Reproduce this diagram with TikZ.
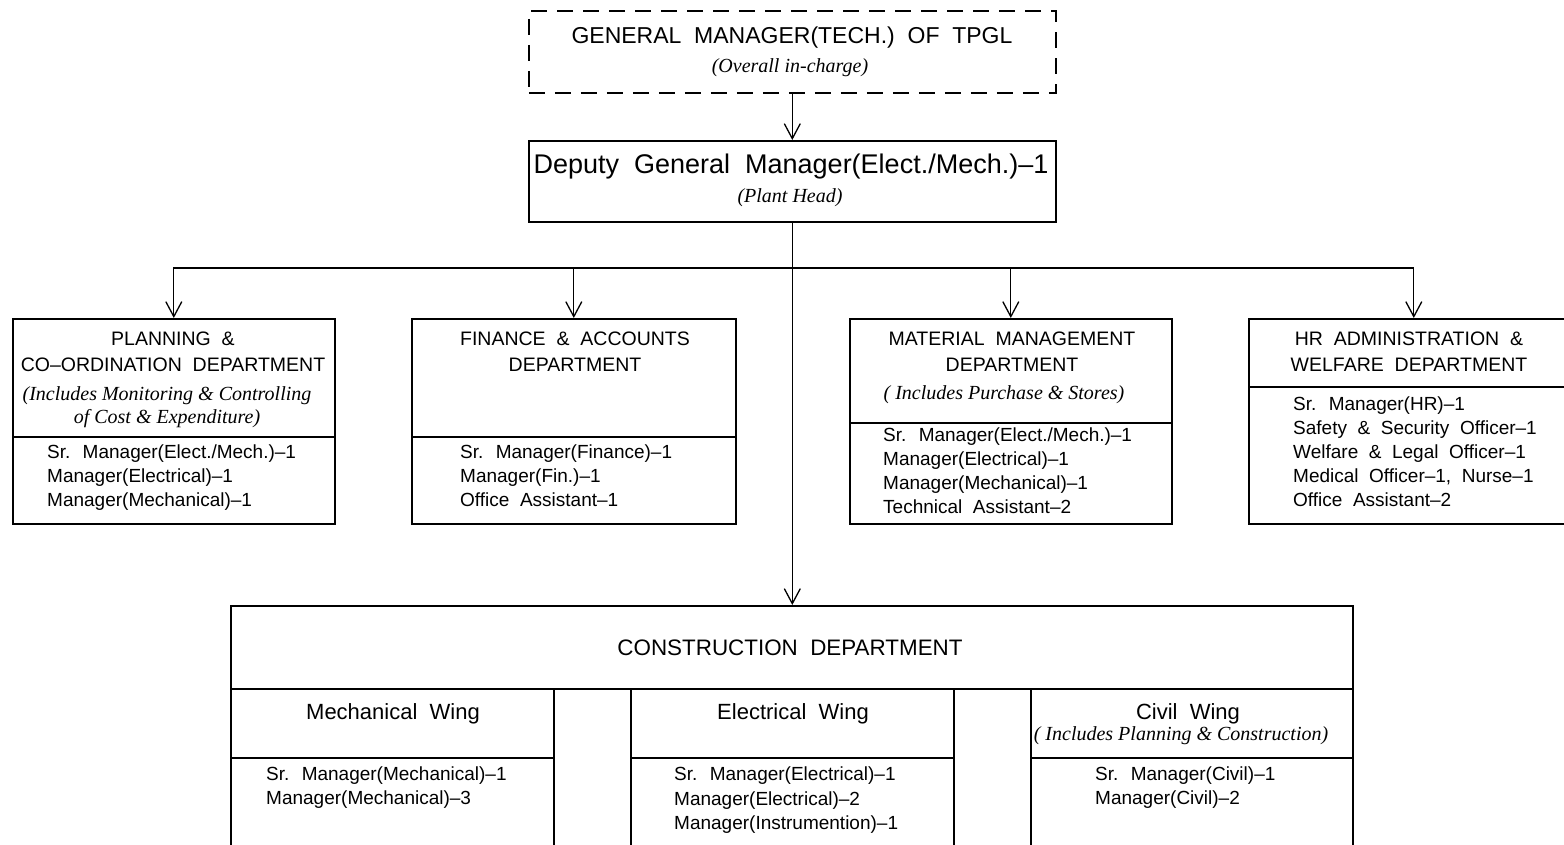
\documentclass[tikz,border=0pt]{standalone}
\usepackage{fontspec}
\setmainfont{Liberation Sans}[WordSpace=2]
\newfontfamily\notefont{Liberation Serif}
\usetikzlibrary{arrows.meta}

\tikzset{
	box/.style={draw, line width=1.6pt, inner sep=0pt, anchor=north west},
	head/.style={font=\fontsize{19.5}{26}\selectfont, align=center, inner sep=0pt, anchor=north},
	wing/.style={head, font=\fontsize{22}{26}\selectfont},
	note/.style={font=\notefont\itshape\fontsize{20}{23}\selectfont, align=center, inner sep=0pt, anchor=north},
	staff/.style={font=\fontsize{19}{24}\selectfont, align=left, inner sep=0pt, anchor=north west},
	link/.style={line width=1.3pt, -{Straight Barb[length=15pt,width=16pt,line width=1.3pt]}}
}

\begin{document}
\begin{tikzpicture}[x=1pt, y=-1pt]
			%%%%% START %%%%%
			\useasboundingbox (0,0) rectangle (1564,845);
			
			% top of the chart
			\node[box, dash pattern=on 16pt off 10pt, minimum width=527pt, minimum height=82pt] (gm) at (528,10) {};
			\node[head, font=\fontsize{23}{26}\selectfont] (gmtitle) at (792,27) {GENERAL MANAGER(TECH.) OF TPGL};
			\node[note] (gmnote) at (790,58) {(Overall in-charge)};
			
			\node[box, minimum width=527pt, minimum height=81pt] (dgm) at (528,140) {};
			\node[head, font=\fontsize{27}{26}\selectfont] (dgmtitle) at (791,154) {Deputy General Manager(Elect./Mech.)--1};
			\node[note] (dgmnote) at (790,188) {(Plant Head)};
			
			% departments
			\node[box, minimum width=322pt, minimum height=118pt] (plan) at (12,318) {};
			\node[box, minimum width=322pt, minimum height=87pt] (planstaff) at (12,436) {};
			\node[head] (plantitle) at (173,332) {PLANNING \&\\CO--ORDINATION DEPARTMENT};
			\node[note] (plannote) at (167,386) {(Includes Monitoring \& Controlling\\of Cost \& Expenditure)};
			\node[staff] (planlist) at (47,445) {Sr. Manager(Elect./Mech.)--1\\Manager(Electrical)--1\\Manager(Mechanical)--1};
			
			\node[box, minimum width=324pt, minimum height=118pt] (fin) at (411,318) {};
			\node[box, minimum width=324pt, minimum height=87pt] (finstaff) at (411,436) {};
			\node[head] (fintitle) at (575,332) {FINANCE \& ACCOUNTS\\DEPARTMENT};
			\node[staff] (finlist) at (460,445) {Sr. Manager(Finance)--1\\Manager(Fin.)--1\\Office Assistant--1};
			
			\node[box, minimum width=322pt, minimum height=104pt] (mat) at (849,318) {};
			\node[box, minimum width=322pt, minimum height=101pt] (matstaff) at (849,422) {};
			\node[head] (mattitle) at (1012,332) {MATERIAL MANAGEMENT\\DEPARTMENT};
			\node[note] (matnote) at (1004,385) {( Includes Purchase \& Stores)};
			\node[staff] (matlist) at (883,428) {Sr. Manager(Elect./Mech.)--1\\Manager(Electrical)--1\\Manager(Mechanical)--1\\Technical Assistant--2};
			
			\node[box, minimum width=330pt, minimum height=68pt] (hr) at (1248,318) {};
			\node[box, minimum width=330pt, minimum height=137pt] (hrstaff) at (1248,386) {};
			\node[head] (hrtitle) at (1409,332) {HR ADMINISTRATION \&\\WELFARE DEPARTMENT};
			\node[staff] (hrlist) at (1293,397) {Sr. Manager(HR)--1\\Safety \& Security Officer--1\\Welfare \& Legal Officer--1\\Medical Officer--1, Nurse--1\\Office Assistant--2};
			
			% construction and its wings
			\node[box, minimum width=1122pt, minimum height=83pt] (cons) at (230,605) {};
			\node[head, font=\fontsize{22.4}{26}\selectfont] (constitle) at (790,640) {CONSTRUCTION DEPARTMENT};
			
			\node[box, minimum width=323pt, minimum height=69pt] (mech) at (230,688) {};
			\node[box, minimum width=323pt, minimum height=95pt] (mechstaff) at (230,757) {};
			\node[wing] (mechtitle) at (393,703) {Mechanical Wing};
			\node[staff] (mechlist) at (266,767) {Sr. Manager(Mechanical)--1\\Manager(Mechanical)--3};
			
			\node[box, minimum width=323pt, minimum height=69pt] (elec) at (630,688) {};
			\node[box, minimum width=323pt, minimum height=95pt] (elecstaff) at (630,757) {};
			\node[wing] (electitle) at (793,703) {Electrical Wing};
			\node[staff, font=\fontsize{19}{24.5}\selectfont] (eleclist) at (674,767) {Sr. Manager(Electrical)--1\\Manager(Electrical)--2\\Manager(Instrumention)--1};
			
			\node[box, minimum width=322pt, minimum height=69pt] (civil) at (1030,688) {};
			\node[box, minimum width=322pt, minimum height=95pt] (civilstaff) at (1030,757) {};
			\node[wing] (civiltitle) at (1188,703) {Civil Wing};
			\node[note] (civilnote) at (1181,726) {( Includes Planning \& Construction)};
			\node[staff] (civillist) at (1095,767) {Sr. Manager(Civil)--1\\Manager(Civil)--2};
			
			% connectors
			\draw[link] (gm.south) -- (dgm.north);
			\draw[link] (dgm.south) -- (dgm.south |- cons.north);
			\coordinate (bus) at (791.5,268);
			\foreach \d in {plan,fin,mat,hr}
				\draw[link] (bus) -| (\d.north);
			
			%%%%% END %%%%%
\end{tikzpicture}
\end{document}
